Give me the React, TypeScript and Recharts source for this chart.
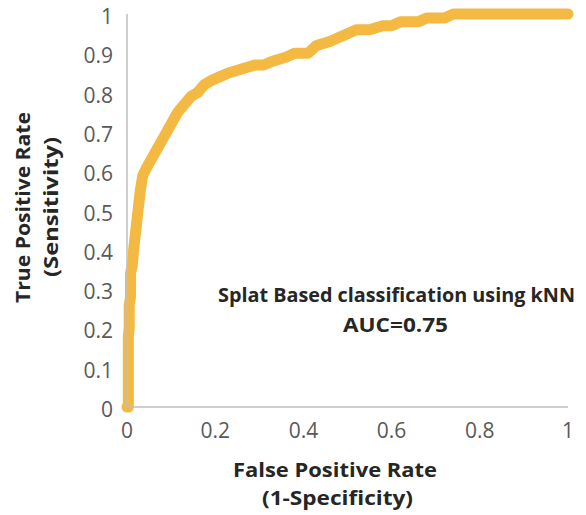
import React from "react";
import { LineChart, Line, XAxis, YAxis, Customized } from "recharts";

const fpr = [0, 0.003, 0.003, 0.005, 0.005, 0.008, 0.008, 0.012, 0.015, 0.018, 0.025, 0.03, 0.036, 0.045, 0.055, 0.065, 0.075, 0.085, 0.095, 0.105, 0.115, 0.13, 0.145, 0.16, 0.175, 0.19, 0.21, 0.23, 0.26, 0.29, 0.31, 0.33, 0.36, 0.38, 0.41, 0.43, 0.46, 0.48, 0.5, 0.52, 0.55, 0.58, 0.6, 0.62, 0.66, 0.68, 0.72, 0.74, 1.0];
const tpr = [0, 0.0, 0.18, 0.2, 0.26, 0.28, 0.34, 0.36, 0.4, 0.43, 0.5, 0.55, 0.59, 0.61, 0.63, 0.65, 0.67, 0.69, 0.71, 0.73, 0.75, 0.77, 0.79, 0.8, 0.82, 0.83, 0.84, 0.85, 0.86, 0.87, 0.87, 0.88, 0.89, 0.9, 0.9, 0.92, 0.93, 0.94, 0.95, 0.96, 0.96, 0.97, 0.97, 0.98, 0.98, 0.99, 0.99, 1.0, 1.0];
const xTicks = [0, 0.2, 0.4, 0.6, 0.8, 1];
const yTicks = [0, 0.1, 0.2, 0.3, 0.4, 0.5, 0.6, 0.7, 0.8, 0.9, 1];
const xTitle = ["False Positive Rate", "(1-Specificity)"];
const yTitle = ["True Positive Rate", "(Sensitivity)"];
const annotation = ["Splat Based classification using kNN", "AUC=0.75"];

const data = fpr.map((x, i) => ({ x, y: tpr[i] }));

const FONT = "'Open Sans', sans-serif";
const fmt = (v: number) => (v === 0 || v === 1 ? String(v) : v.toFixed(1));

const T = (p: { x: number; y: number; len: number; size: number; rot?: boolean; children: string }) => (
  <text
    x={p.x}
    y={p.y}
    fontSize={p.size}
    textAnchor="middle"
    dominantBaseline="central"
    textLength={p.len}
    lengthAdjust="spacingAndGlyphs"
    transform={p.rot ? `rotate(-90 ${p.x} ${p.y})` : undefined}
  >
    {p.children}
  </text>
);

const YTick = (props: any) => {
  const { x, y, payload } = props;
  return (
    <text x={x} y={y + 2} textAnchor="end" dominantBaseline="central" fontSize={21} fill="#595959" fontFamily={FONT}>
      {fmt(payload.value)}
    </text>
  );
};

const XTick = (props: any) => {
  const { x, y, payload } = props;
  return (
    <text x={x} y={y + 9} textAnchor="middle" dominantBaseline="central" fontSize={21} fill="#595959" fontFamily={FONT}>
      {fmt(payload.value)}
    </text>
  );
};

const Titles = () => (
  <g fontFamily={FONT} fontWeight="bold" fill="#262626">
    <T x={335} y={469} len={204} size={20}>{xTitle[0]}</T>
    <T x={337.5} y={497} len={151} size={20}>{xTitle[1]}</T>
    <T x={22} y={207.5} len={191} size={20} rot>{yTitle[0]}</T>
    <T x={50} y={207} len={140} size={20} rot>{yTitle[1]}</T>
    <T x={396.5} y={295} len={357} size={19}>{annotation[0]}</T>
    <T x={395.5} y={325} len={105} size={19}>{annotation[1]}</T>
  </g>
);

export default function App() {
  return (
    <div style={{ position: "absolute", left: 0, top: 0, background: "#fff" }}>
      <LineChart width={586} height={515} data={data} margin={{ top: 14, right: 18, bottom: 0, left: 0 }}>
        <XAxis
          dataKey="x"
          type="number"
          domain={[0, 1]}
          ticks={xTicks}
          axisLine={{ stroke: "#BFBFBF", strokeWidth: 1.5 }}
          tickLine={false}
          tickSize={0}
          tickMargin={14}
          height={108}
          tick={<XTick />}
        />
        <YAxis
          dataKey="y"
          type="number"
          domain={[0, 1]}
          ticks={yTicks}
          axisLine={{ stroke: "#BFBFBF", strokeWidth: 1.5 }}
          tickLine={false}
          tickSize={0}
          tickMargin={14}
          width={127}
          tick={<YTick />}
        />
        <Line
          dataKey="y"
          type="linear"
          stroke="#F4B942"
          strokeWidth={11}
          strokeLinejoin="round"
          strokeLinecap="round"
          dot={false}
          isAnimationActive={false}
        />
        <Customized component={Titles} />
      </LineChart>
    </div>
  );
}
